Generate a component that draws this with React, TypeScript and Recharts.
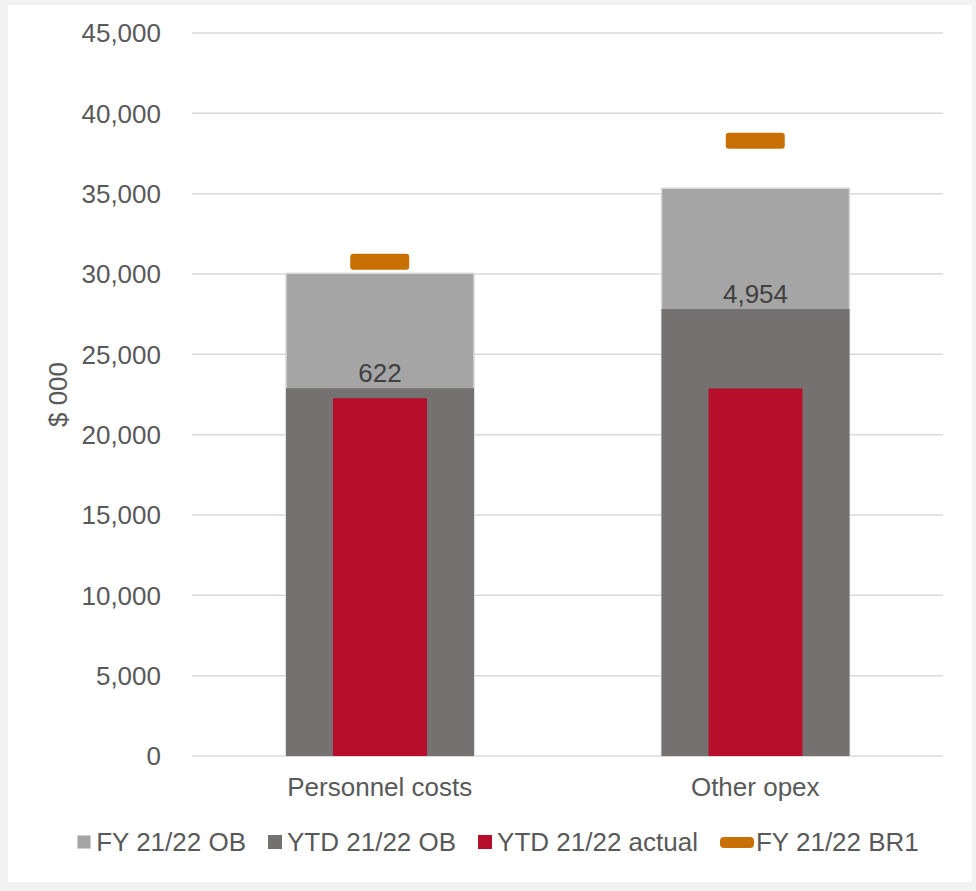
import React from "react";
import {
  ComposedChart,
  Bar,
  Scatter,
  XAxis,
  YAxis,
  CartesianGrid,
  Legend,
  LabelList,
} from "recharts";

const categories = ["Personnel costs", "Other opex"];
const fyOb = [30045, 35334];
const ytdOb = [22886, 27822];
const ytdActual = [22264, 22868];
const fyBr1 = [30760, 38300];
const variance = [622, 4954];
const yTicks = [0, 5000, 10000, 15000, 20000, 25000, 30000, 35000, 40000, 45000];
const legendOrder = ["fyOb", "ytdOb", "ytdActual", "fyBr1"];

const data = categories.map((name, i) => ({
  name,
  fyOb: fyOb[i],
  ytdOb: ytdOb[i],
  ytdActual: ytdActual[i],
  fyBr1: fyBr1[i],
  variance: variance[i],
}));

const TEXT = "#595959";
const FONT = "'Liberation Sans', Arial, sans-serif";

const colors: Record<string, string> = {
  fyOb: "#a5a5a5",
  ytdOb: "#767171",
  ytdActual: "#b70f2b",
  fyBr1: "#c87004",
};

// orange dash marker for the BR1 series
const DashShape = (props: any) => {
  const { cx, cy } = props;
  if (cx == null || cy == null) return null;
  return <rect x={cx - 29.5} y={cy - 8} width={59} height={16} rx={3} fill={colors.fyBr1} />;
};

const CustomLegend = ({ payload }: any) => {
  if (!payload) return null;
  const items = legendOrder
    .map((k) => payload.find((p: any) => p.dataKey === k))
    .filter(Boolean);
  return (
    <div
      style={{
        display: "flex",
        justifyContent: "center",
        alignItems: "center",
        gap: 22,
        fontFamily: FONT,
        fontSize: 26,
        lineHeight: "30px",
        color: TEXT,
        paddingLeft: 20,
      }}
    >
      {items.map((entry: any) => {
        const key = entry.dataKey;
        const isDash = key === "fyBr1";
        return (
          <div key={key} style={{ display: "flex", alignItems: "center", gap: isDash ? 2 : 5 }}>
            <div
              style={
                isDash
                  ? { width: 34, height: 11, borderRadius: 4, background: colors[key] }
                  : {
                      width: 14,
                      height: 14,
                      background: colors[key],
                      boxSizing: "border-box",
                      border: key === "fyOb" ? "1px solid #d0d0d0" : "none",
                    }
              }
            />
            <span>{entry.value}</span>
          </div>
        );
      })}
    </div>
  );
};

export default function App() {
  return (
    <div style={{ position: "absolute", left: 0, top: 0, width: 976, height: 891, background: "#f2f2f2" }}>
      <div style={{ position: "absolute", left: 8, top: 5, width: 964, height: 877, background: "#ffffff" }} />
      <div style={{ position: "absolute", left: 0, top: 0 }}>
        <ComposedChart
          width={976}
          height={891}
          data={data}
          margin={{ top: 33, right: 33, left: 0, bottom: 0 }}
        >
          <CartesianGrid vertical={false} stroke="#d9d9d9" strokeWidth={1.5} />
          <XAxis
            xAxisId="a"
            dataKey="name"
            axisLine={false}
            tickLine={false}
            tickSize={0}
            tickMargin={22}
            height={105}
            tick={{ fill: TEXT, fontSize: 26, fontFamily: FONT }}
          />
          <XAxis xAxisId="b" dataKey="name" hide />
          <XAxis xAxisId="c" dataKey="name" hide />
          <YAxis
            width={192}
            domain={[0, 45000]}
            ticks={yTicks}
            interval={0}
            axisLine={false}
            tickLine={false}
            tickSize={0}
            tickMargin={31}
            tick={{ fill: TEXT, fontSize: 26, fontFamily: FONT }}
            tickFormatter={(v: number) => v.toLocaleString("en-US")}
            label={{
              content: ({ viewBox }: any) => {
                const cy = viewBox.y + viewBox.height / 2;
                return (
                  <text
                    x={58}
                    y={cy}
                    transform={`rotate(-90, 58, ${cy})`}
                    textAnchor="middle"
                    dominantBaseline="central"
                    fill={TEXT}
                    fontSize={26}
                    fontFamily={FONT}
                  >
                    $ 000
                  </text>
                );
              },
            }}
          />
          <Bar
            xAxisId="a"
            dataKey="fyOb"
            name="FY 21/22 OB"
            fill={colors.fyOb}
            stroke="#d9d9d9"
            strokeWidth={1.5}
            barSize={188}
            isAnimationActive={false}
          />
          <Bar
            xAxisId="b"
            dataKey="ytdOb"
            name="YTD 21/22 OB"
            fill={colors.ytdOb}
            barSize={188}
            isAnimationActive={false}
          >
            <LabelList
              dataKey="variance"
              position="top"
              offset={6}
              fill="#404040"
              fontSize={26}
              fontFamily={FONT}
              formatter={(v: any) => Number(v).toLocaleString("en-US")}
            />
          </Bar>
          <Bar
            xAxisId="c"
            dataKey="ytdActual"
            name="YTD 21/22 actual"
            fill={colors.ytdActual}
            barSize={94}
            isAnimationActive={false}
          />
          <Scatter
            xAxisId="a"
            dataKey="fyBr1"
            name="FY 21/22 BR1"
            fill={colors.fyBr1}
            shape={<DashShape />}
            isAnimationActive={false}
          />
          <Legend
            content={<CustomLegend />}
            wrapperStyle={{ position: "absolute", top: 827, left: 0, width: 976 }}
          />
        </ComposedChart>
      </div>
    </div>
  );
}
